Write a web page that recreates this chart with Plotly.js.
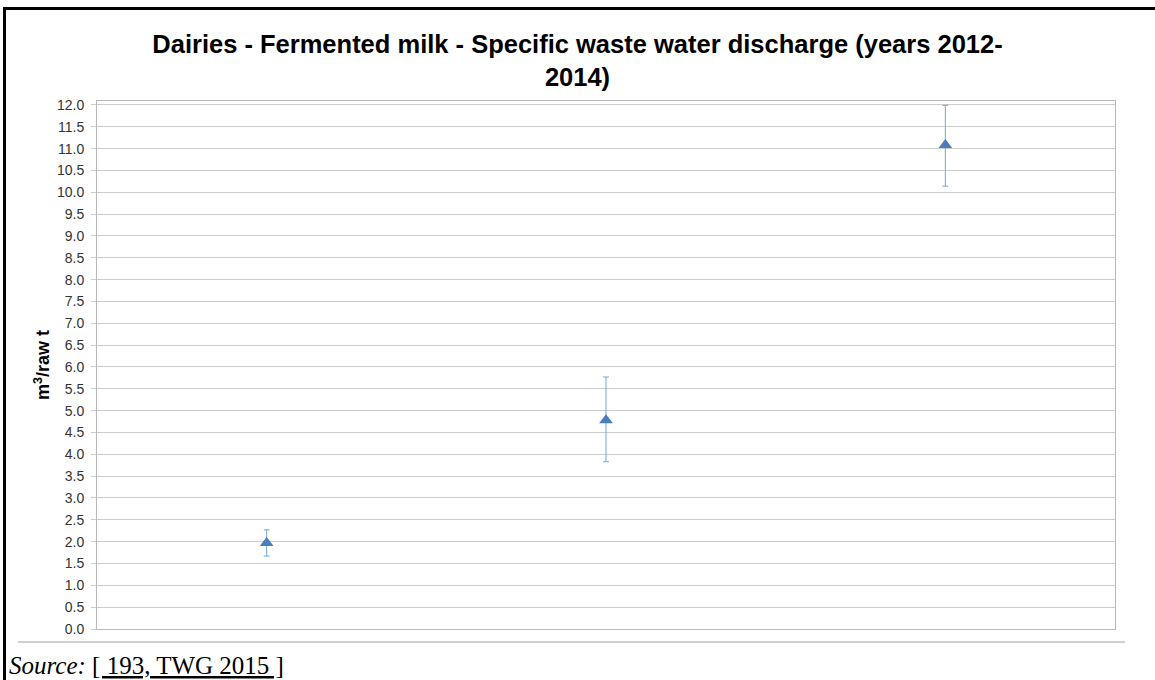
<!DOCTYPE html>
<html>
<head>
<meta charset="utf-8">
<script src="https://cdn.plot.ly/plotly-3.0.1.min.js"></script>
<style>
html,body{margin:0;padding:0;background:#fff;}
#frame{position:absolute;left:3px;top:7px;width:1160px;height:680px;border-top:3px solid #000;border-left:3px solid #000;pointer-events:none;z-index:5;}
#chart{position:absolute;left:0;top:0;width:1155px;height:680px;}
</style>
</head>
<body>
<div id="chart"></div>
<div id="frame"></div>
<script>
const categories = [1, 2, 3];
const values = [1.97, 4.78, 11.08];
const errPlus = [0.30, 0.99, 0.91];
const errMinus = [0.30, 0.95, 0.94];
const yTicks = [0,0.5,1,1.5,2,2.5,3,3.5,4,4.5,5,5.5,6,6.5,7,7.5,8,8.5,9,9.5,10,10.5,11,11.5,12];

const trace = {
  x: categories,
  y: values,
  type: 'scatter',
  mode: 'markers',
  marker: {symbol: 'triangle-up', size: 12, color: '#4a7ebb'},
  error_y: {type: 'data', symmetric: false, array: errPlus, arrayminus: errMinus,
            color: '#6fa8dc', thickness: 1, width: 3},
  hoverinfo: 'y'
};

const layout = {
  width: 1155, height: 680,
  margin: {l: 97, r: 40, t: 101, b: 51},
  paper_bgcolor: '#ffffff', plot_bgcolor: '#ffffff',
  showlegend: false,
  title: {
    text: '<b>Dairies - Fermented milk - Specific waste water discharge (years 2012-<br>2014)</b>',
    font: {family: 'Liberation Sans, Arial, sans-serif', size: 25.5, color: '#000'},
    x: 0.5, xanchor: 'center', y: 0.922, yanchor: 'top'
  },
  xaxis: {
    range: [0.5, 3.5], showticklabels: false, showgrid: false, zeroline: false,
    showline: true, linecolor: '#b8b8b8', linewidth: 1, mirror: true, ticks: ''
  },
  yaxis: {
    range: [0, 12.09], tickvals: yTicks, ticktext: yTicks.map(v => v.toFixed(1)),
    showgrid: true, gridcolor: '#cccccc', gridwidth: 1, zeroline: false,
    showline: true, linecolor: '#b8b8b8', linewidth: 1, mirror: true,
    ticks: 'outside', ticklen: 5, tickcolor: '#cccccc', ticklabelstandoff: 4,
    tickfont: {family: 'Liberation Sans, Arial, sans-serif', size: 14, color: '#333'},
    title: {text: '<b>m<sup>3</sup>/raw t</b>', standoff: 2,
            font: {family: 'Liberation Sans, Arial, sans-serif', size: 18, color: '#000'}}
  },
  shapes: [
    {type: 'line', xref: 'paper', yref: 'paper',
     x0: (18-97)/1018, x1: (1125-97)/1018, y0: -13/528, y1: -13/528,
     line: {color: '#c0c0c0', width: 1.5}}
  ],
  annotations: [
    {xref: 'paper', yref: 'paper', x: (7-97)/1018, y: -(665-629)/528,
     xanchor: 'left', yanchor: 'middle', showarrow: false,
     text: '<i>Source:</i> <u>[ 193, TWG 2015 ]</u>',
     font: {family: 'Liberation Serif, Times New Roman, serif', size: 25, color: '#000'}}
  ]
};

Plotly.newPlot('chart', [trace], layout, {displayModeBar: false, staticPlot: true});
</script>
</body>
</html>
